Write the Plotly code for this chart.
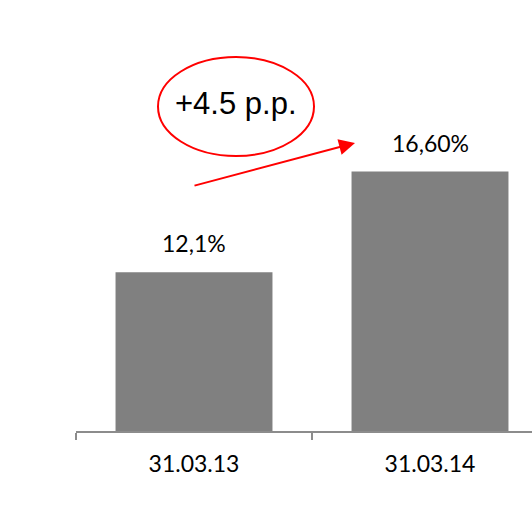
import plotly.graph_objects as go

# Chart data
categories = ["31.03.13", "31.03.14"]
values = [12.1, 16.6]
value_labels = ["12,1%", "16,60%"]
change_label = "+4.5 p.p."

W, H = 532, 526
ml, mr, mt, mb = 76, 0, 0, 95
pw, ph = W - ml - mr, H - mt - mb

def px_x(x):
    return (x - ml) / pw

def px_y(y):
    return (H - mb - y) / ph

fig = go.Figure(go.Bar(
    x=categories,
    y=values,
    marker=dict(color="#808080", line=dict(width=0)),
    width=0.665,
    hoverinfo="skip",
))

# Value labels above bars
for c, v, t in zip(categories, values, value_labels):
    fig.add_annotation(
        x=c, y=v, text=t, showarrow=False,
        yanchor="bottom", yshift=13,
        font=dict(family="Lato, Carlito, sans-serif", size=23, color="#000000"),
    )

# Ellipse around the change label
fig.add_shape(
    type="circle", xref="paper", yref="paper",
    x0=px_x(158), x1=px_x(314), y0=px_y(156), y1=px_y(57),
    line=dict(color="#ff0000", width=2),
)
fig.add_annotation(
    xref="paper", yref="paper", x=px_x(236), y=px_y(103),
    text=change_label, showarrow=False,
    xanchor="center", yanchor="middle",
    font=dict(family="Liberation Sans, Arial, sans-serif", size=31, color="#000000"),
)

# Red arrow indicating the increase
fig.add_annotation(
    xref="paper", yref="paper", x=px_x(355), y=px_y(143),
    axref="pixel", ayref="pixel", ax=-162, ay=43,
    text="", showarrow=True,
    arrowhead=2, arrowsize=1.6, arrowwidth=2, arrowcolor="#ff0000",
    standoff=0, startstandoff=0,
)

fig.update_layout(
    width=W, height=H,
    margin=dict(l=ml, r=mr, t=mt, b=mb, pad=0),
    paper_bgcolor="white", plot_bgcolor="white",
    showlegend=False,
    bargap=0.335,
    xaxis=dict(
        type="category",
        range=[-0.5, -0.5 + pw / 236],
        showline=True, linecolor="#8c8c8c", linewidth=1.5,
        ticks="outside", tickson="boundaries", ticklen=7,
        tickcolor="#8c8c8c", tickwidth=1.5,
        showgrid=False, zeroline=False,
        tickfont=dict(family="Lato, Carlito, sans-serif", size=23, color="#000000"),
        ticklabelstandoff=12,
    ),
    yaxis=dict(
        range=[5, 5 + ph / 22.36],
        visible=False, showgrid=False, zeroline=False,
    ),
)

fig.write_html("out.html")
